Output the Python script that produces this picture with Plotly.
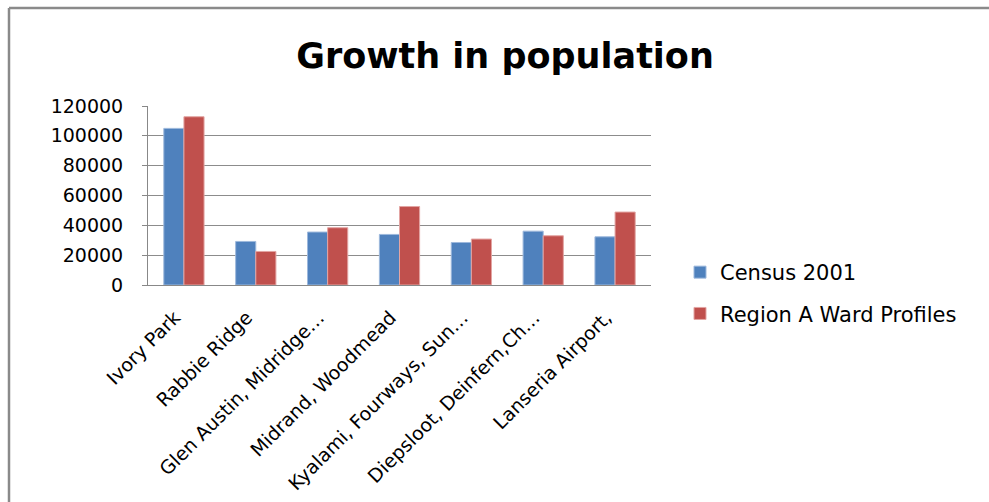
import plotly.graph_objects as go

# Data
areas = [
    "Ivory Park",
    "Rabbie Ridge",
    "Glen Austin, Midridge…",
    "Midrand, Woodmead",
    "Kyalami, Fourways, Sun…",
    "Diepsloot, Deinfern,Ch…",
    "Lanseria Airport,",
]
census_2001 = [105000, 29200, 35500, 33900, 28500, 36100, 32300]
ward_profiles = [112800, 22500, 38400, 52600, 30800, 33000, 48900]
y_ticks = [0, 20000, 40000, 60000, 80000, 100000, 120000]
y_tick_text = [str(v) for v in y_ticks]

W, H = 989, 502
L, R, T, B = 148, 338, 106, 217
PW, PH = W - L - R, H - T - B


def px_x(px):
    return (px - L) / PW


def px_y(py):
    return (H - B - py) / PH


FONT = "DejaVu Sans"

fig = go.Figure()
fig.add_trace(go.Bar(
    x=areas, y=census_2001, name="Census 2001",
    marker=dict(color="#4F81BD", line=dict(color="#9DB8DC", width=1)),
    legendgroup="a",
))
fig.add_trace(go.Bar(
    x=areas, y=ward_profiles, name="Region A Ward Profiles",
    marker=dict(color="#C0504D", line=dict(color="#E3A5A3", width=1)),
    legendgroup="b",
))

# outer chart frame (top and left edges)
frame = dict(color="#8a8a8a", width=2.5)
fig.add_shape(type="line", xref="paper", yref="paper",
              x0=px_x(9), x1=px_x(W + 5), y0=px_y(8), y1=px_y(8), line=frame)
fig.add_shape(type="line", xref="paper", yref="paper",
              x0=px_x(9), x1=px_x(9), y0=px_y(8), y1=px_y(H + 5), line=frame)

fig.update_layout(
    width=W, height=H,
    margin=dict(l=L, r=R, t=T, b=B, autoexpand=False),
    paper_bgcolor="white", plot_bgcolor="white",
    barmode="group", bargap=0.44, bargroupgap=0,
    font=dict(family=FONT, size=19, color="#000000"),
    title=dict(
        text="<b>Growth in population</b>",
        font=dict(family=FONT, size=35, color="#000000"),
        x=505 / W, xanchor="center", xref="container",
        y=1 - 56 / H, yanchor="middle", yref="container",
    ),
    xaxis=dict(
        tickangle=-45, showline=True, linecolor="#888888", linewidth=1,
        ticks="", showgrid=False, ticklabelstandoff=13, ticklabelshift=-9,
        tickfont=dict(family=FONT, size=19), automargin=False,
    ),
    yaxis=dict(
        range=[0, 120000], tickvals=y_ticks, ticktext=y_tick_text,
        showgrid=True, gridcolor="#8c8c8c", gridwidth=1, showline=True,
        linecolor="#888888", linewidth=1, ticks="outside", ticklen=5,
        tickcolor="#888888", ticklabelstandoff=15, zeroline=False,
        tickfont=dict(family=FONT, size=19), automargin=False,
    ),
    legend=dict(
        x=px_x(680), xanchor="left", y=px_y(252), yanchor="top",
        tracegroupgap=11, font=dict(family=FONT, size=21),
        bgcolor="rgba(0,0,0,0)",
    ),
)

fig.write_html("out.html")
